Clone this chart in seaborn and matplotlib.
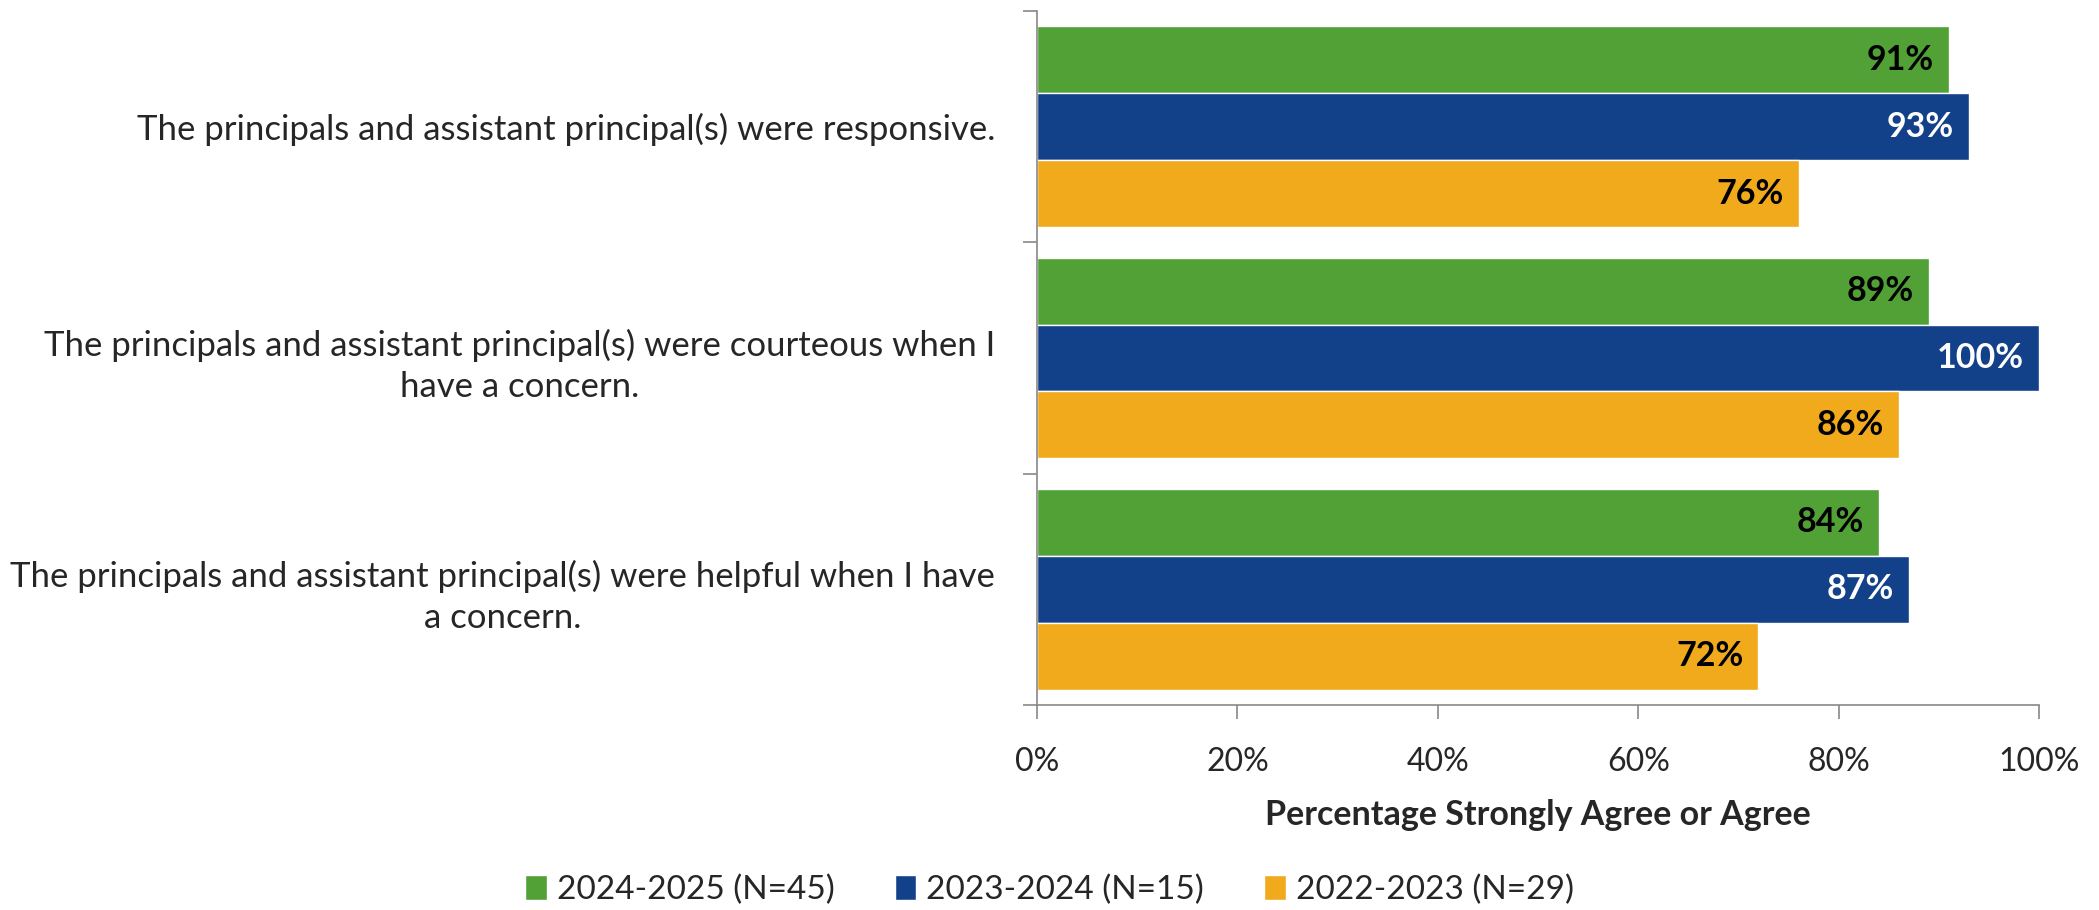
import matplotlib
matplotlib.use("Agg")
import matplotlib.pyplot as plt
import seaborn as sns
import pandas as pd
from matplotlib.ticker import FixedLocator, PercentFormatter

questions = [
    "The principals and assistant principal(s) were responsive.",
    "The principals and assistant principal(s) were courteous when I\nhave a concern.",
    "The principals and assistant principal(s) were helpful when I have\na concern.",
]
years = ["2024-2025 (N=45)", "2023-2024 (N=15)", "2022-2023 (N=29)"]
v_2024_2025 = [91, 89, 84]
v_2023_2024 = [93, 100, 87]
v_2022_2023 = [76, 86, 72]
colors = ["#52A136", "#134189", "#F0AA1C"]
label_colors = ["black", "white", "black"]
x_ticks = [0, 20, 40, 60, 80, 100]

rows = []
for yr, vals in zip(years, [v_2024_2025, v_2023_2024, v_2022_2023]):
    for q, v in zip(questions, vals):
        rows.append({"question": q, "year": yr, "value": v})
df = pd.DataFrame(rows)

sns.set_theme(style="white")
plt.rcParams["font.family"] = ["Lato", "DejaVu Sans"]

fig = plt.figure(figsize=(20.99, 9.10), dpi=100)
ax = fig.add_axes([1037 / 2099, 1 - 705 / 910, (2039 - 1037) / 2099, (705 - 11) / 910])

sns.barplot(data=df, y="question", x="value", hue="year", order=questions,
            hue_order=years, palette=colors, saturation=1, width=0.867,
            orient="h", ax=ax, legend=True)

for cont, lc in zip(ax.containers, label_colors):
    texts = ax.bar_label(cont, labels=[f"{int(w)}%" for w in cont.datavalues],
                         padding=-11, label_type="edge", color=lc, fontsize=24.5,
                         fontweight="bold")
    for t in texts:
        t.set_ha("right")

ax.set_xlim(0, 100)
ax.set_ylim(2.5, -0.5)
ax.xaxis.set_major_locator(FixedLocator(x_ticks))
ax.xaxis.set_major_formatter(PercentFormatter(decimals=0))
ax.tick_params(axis="x", labelsize=23, length=10, width=1.2, color="#888888",
               pad=20, direction="out", bottom=True)
ax.set_yticks(range(len(questions)))
ax.set_yticklabels(questions, fontsize=25, multialignment="center", linespacing=1.35)
ax.tick_params(axis="y", which="major", length=0, pad=30)
ax.yaxis.set_minor_locator(FixedLocator([-0.5, 0.5, 1.5, 2.5]))
ax.tick_params(axis="y", which="minor", length=10, width=1.2, color="#888888",
               left=True, direction="out")

for s in ["top", "right"]:
    ax.spines[s].set_visible(False)
for s in ["left", "bottom"]:
    ax.spines[s].set_color("#888888")
    ax.spines[s].set_linewidth(1.2)

ax.set_ylabel("")
ax.set_xlabel("Percentage Strongly Agree or Agree", fontsize=24.5,
              fontweight="bold", labelpad=16)

leg = ax.legend(loc="center", bbox_to_anchor=(0.5, 1 - 890 / 910),
                bbox_transform=fig.transFigure, ncol=3, frameon=False,
                fontsize=24, handlelength=0.65, handleheight=0.8,
                handletextpad=0.3, columnspacing=1.8)

fig.savefig("out.png", dpi=100)
